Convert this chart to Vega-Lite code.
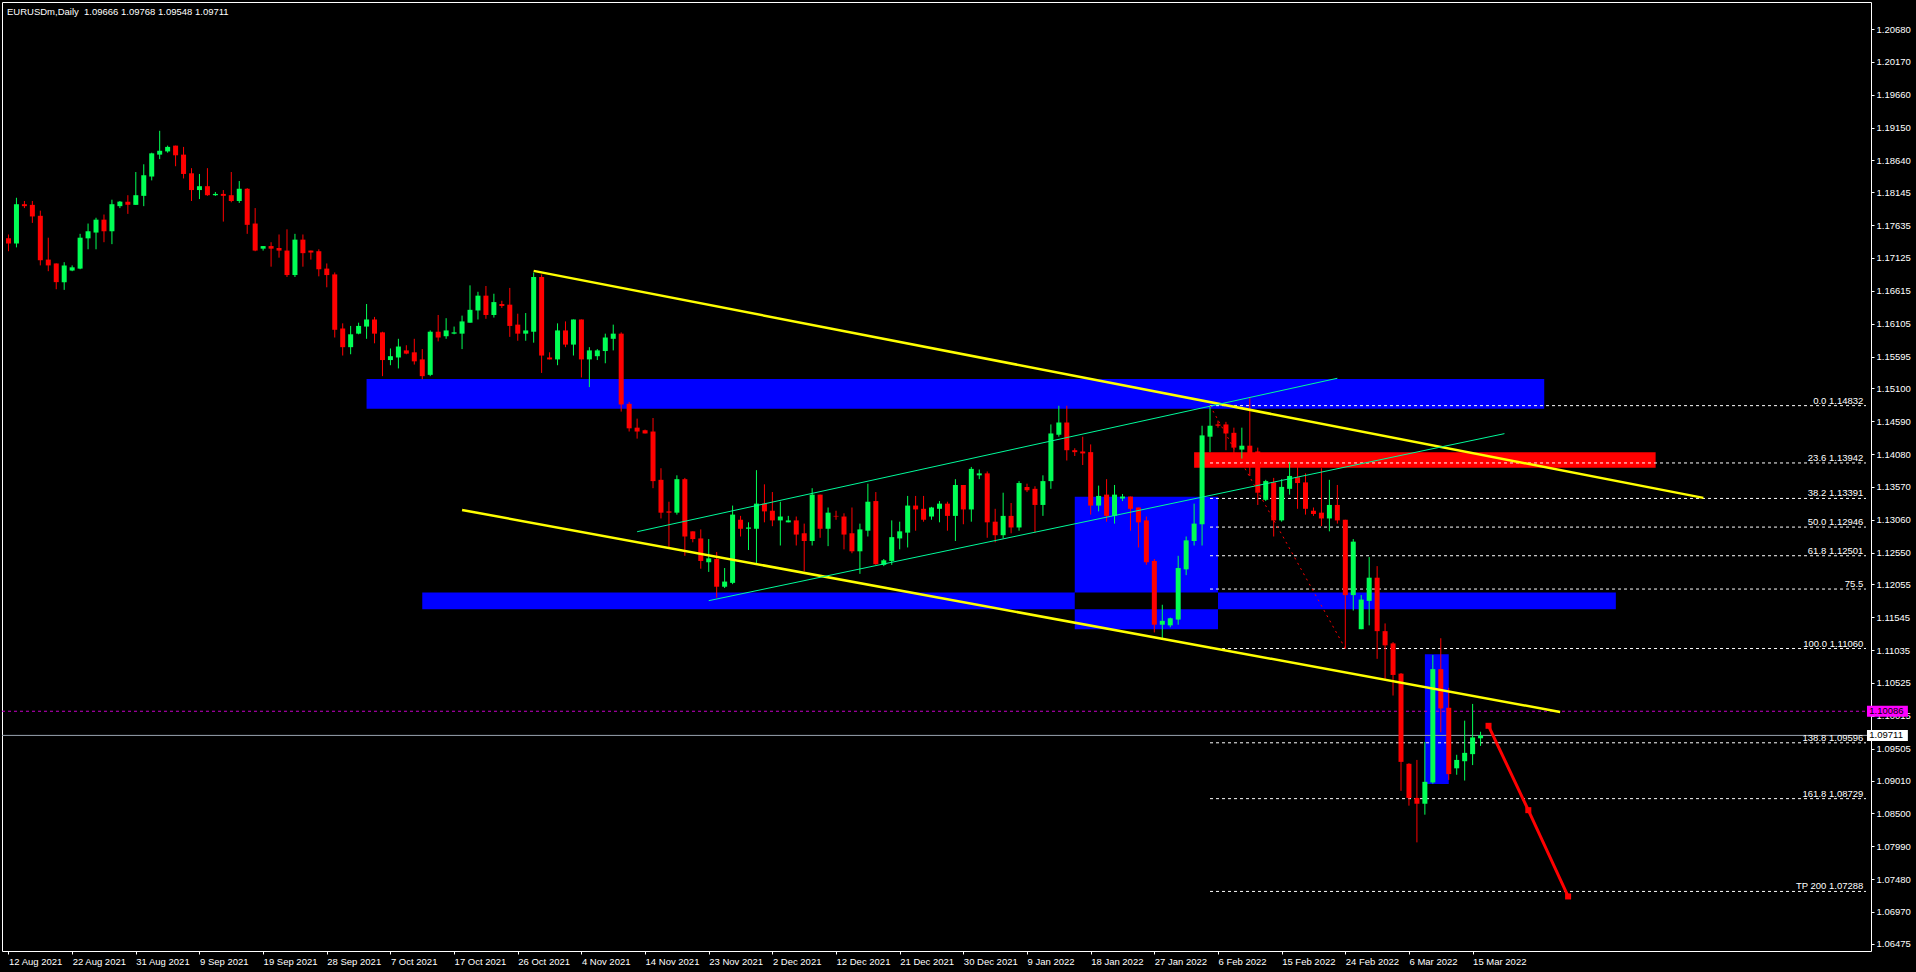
{
  "$schema": "https://vega.github.io/schema/vega-lite/v6.json",
  "width": 1869,
  "height": 949,
  "autosize": {"type": "none"},
  "padding": {"left": 2, "top": 2, "right": 45, "bottom": 21},
  "background": "#000000",
  "title": {"text": "EURUSDm,Daily\u00a0 1.09666 1.09768 1.09548 1.09711", "anchor": "start", "frame": "group", "orient": "top", "offset": -14, "dx": 5, "color": "#FFFFFF", "font": "Liberation Sans", "fontSize": 9.5, "fontWeight": "normal"},
  "config": {
    "view": {"stroke": "#FFFFFF", "strokeWidth": 1, "fill": "#000000"},
    "axis": {"grid": false, "domain": false, "tickColor": "#FFFFFF", "tickSize": 3, "labelColor": "#FFFFFF", "labelFont": "Liberation Sans", "labelFontSize": 9.5, "labelOverlap": false, "labelFlush": false, "labelBound": false}
  },
  "datasets": {
    "candles": [
      {"i":0,"o":1.1743,"h":1.1749,"l":1.1723,"c":1.1735},
      {"i":1,"o":1.1735,"h":1.1806,"l":1.1729,"c":1.1796},
      {"i":2,"o":1.1796,"h":1.1801,"l":1.1790,"c":1.1793},
      {"i":3,"o":1.1795,"h":1.1801,"l":1.1767,"c":1.1777},
      {"i":4,"o":1.1778,"h":1.1786,"l":1.1701,"c":1.1709},
      {"i":5,"o":1.1710,"h":1.1744,"l":1.1692,"c":1.1701},
      {"i":6,"o":1.1704,"h":1.1704,"l":1.1664,"c":1.1675},
      {"i":7,"o":1.1675,"h":1.1706,"l":1.1663,"c":1.1701},
      {"i":8,"o":1.1693,"h":1.1701,"l":1.1692,"c":1.1698},
      {"i":9,"o":1.1696,"h":1.1750,"l":1.1695,"c":1.1744},
      {"i":10,"o":1.1743,"h":1.1766,"l":1.1726,"c":1.1754},
      {"i":11,"o":1.1752,"h":1.1775,"l":1.1726,"c":1.1772},
      {"i":12,"o":1.1772,"h":1.1780,"l":1.1737,"c":1.1754},
      {"i":13,"o":1.1754,"h":1.1803,"l":1.1734,"c":1.1796},
      {"i":14,"o":1.1793,"h":1.1801,"l":1.1790,"c":1.1800},
      {"i":15,"o":1.1800,"h":1.1810,"l":1.1781,"c":1.1795},
      {"i":16,"o":1.1795,"h":1.1846,"l":1.1795,"c":1.1810},
      {"i":17,"o":1.1809,"h":1.1858,"l":1.1793,"c":1.1841},
      {"i":18,"o":1.1839,"h":1.1876,"l":1.1833,"c":1.1875},
      {"i":19,"o":1.1873,"h":1.1910,"l":1.1866,"c":1.1879},
      {"i":20,"o":1.1878,"h":1.1887,"l":1.1876,"c":1.1885},
      {"i":21,"o":1.1887,"h":1.1887,"l":1.1855,"c":1.1872},
      {"i":22,"o":1.1873,"h":1.1885,"l":1.1836,"c":1.1843},
      {"i":23,"o":1.1844,"h":1.1852,"l":1.1801,"c":1.1818},
      {"i":24,"o":1.1818,"h":1.1843,"l":1.1804,"c":1.1824},
      {"i":25,"o":1.1824,"h":1.1852,"l":1.1809,"c":1.1810},
      {"i":26,"o":1.1810,"h":1.1815,"l":1.1809,"c":1.1812},
      {"i":27,"o":1.1812,"h":1.1818,"l":1.1769,"c":1.1809},
      {"i":28,"o":1.1810,"h":1.1846,"l":1.1799,"c":1.1801},
      {"i":29,"o":1.1801,"h":1.1832,"l":1.1798,"c":1.1820},
      {"i":30,"o":1.1820,"h":1.1821,"l":1.1750,"c":1.1764},
      {"i":31,"o":1.1766,"h":1.1790,"l":1.1723,"c":1.1724},
      {"i":32,"o":1.1727,"h":1.1731,"l":1.1724,"c":1.1731},
      {"i":33,"o":1.1731,"h":1.1737,"l":1.1699,"c":1.1727},
      {"i":34,"o":1.1728,"h":1.1749,"l":1.1713,"c":1.1724},
      {"i":35,"o":1.1724,"h":1.1757,"l":1.1683,"c":1.1686},
      {"i":36,"o":1.1686,"h":1.1750,"l":1.1683,"c":1.1741},
      {"i":37,"o":1.1741,"h":1.1749,"l":1.1699,"c":1.1720},
      {"i":38,"o":1.1724,"h":1.1724,"l":1.1710,"c":1.1721},
      {"i":39,"o":1.1723,"h":1.1726,"l":1.1684,"c":1.1695},
      {"i":40,"o":1.1696,"h":1.1704,"l":1.1667,"c":1.1686},
      {"i":41,"o":1.1687,"h":1.1690,"l":1.1589,"c":1.1601},
      {"i":42,"o":1.1603,"h":1.1611,"l":1.1561,"c":1.1574},
      {"i":43,"o":1.1574,"h":1.1607,"l":1.1563,"c":1.1594},
      {"i":44,"o":1.1595,"h":1.1612,"l":1.1594,"c":1.1607},
      {"i":45,"o":1.1606,"h":1.1641,"l":1.1587,"c":1.1617},
      {"i":46,"o":1.1617,"h":1.1621,"l":1.1580,"c":1.1595},
      {"i":47,"o":1.1597,"h":1.1598,"l":1.1529,"c":1.1554},
      {"i":48,"o":1.1554,"h":1.1572,"l":1.1546,"c":1.1560},
      {"i":49,"o":1.1558,"h":1.1587,"l":1.1541,"c":1.1575},
      {"i":50,"o":1.1569,"h":1.1577,"l":1.1563,"c":1.1564},
      {"i":51,"o":1.1566,"h":1.1587,"l":1.1547,"c":1.1552},
      {"i":52,"o":1.1555,"h":1.1571,"l":1.1524,"c":1.1529},
      {"i":53,"o":1.1531,"h":1.1600,"l":1.1529,"c":1.1598},
      {"i":54,"o":1.1598,"h":1.1624,"l":1.1583,"c":1.1589},
      {"i":55,"o":1.1591,"h":1.1619,"l":1.1587,"c":1.1600},
      {"i":56,"o":1.1595,"h":1.1606,"l":1.1594,"c":1.1597},
      {"i":57,"o":1.1595,"h":1.1623,"l":1.1571,"c":1.1614},
      {"i":58,"o":1.1612,"h":1.1670,"l":1.1612,"c":1.1632},
      {"i":59,"o":1.1631,"h":1.1660,"l":1.1617,"c":1.1654},
      {"i":60,"o":1.1654,"h":1.1669,"l":1.1618,"c":1.1624},
      {"i":61,"o":1.1624,"h":1.1657,"l":1.1620,"c":1.1644},
      {"i":62,"o":1.1641,"h":1.1646,"l":1.1635,"c":1.1638},
      {"i":63,"o":1.1640,"h":1.1666,"l":1.1590,"c":1.1607},
      {"i":64,"o":1.1609,"h":1.1626,"l":1.1584,"c":1.1595},
      {"i":65,"o":1.1595,"h":1.1627,"l":1.1584,"c":1.1600},
      {"i":66,"o":1.1598,"h":1.1690,"l":1.1581,"c":1.1683},
      {"i":67,"o":1.1683,"h":1.1687,"l":1.1534,"c":1.1561},
      {"i":68,"o":1.1558,"h":1.1566,"l":1.1555,"c":1.1555},
      {"i":69,"o":1.1555,"h":1.1611,"l":1.1546,"c":1.1600},
      {"i":70,"o":1.1600,"h":1.1614,"l":1.1574,"c":1.1578},
      {"i":71,"o":1.1578,"h":1.1617,"l":1.1561,"c":1.1617},
      {"i":72,"o":1.1617,"h":1.1617,"l":1.1527,"c":1.1555},
      {"i":73,"o":1.1555,"h":1.1574,"l":1.1512,"c":1.1569},
      {"i":74,"o":1.1560,"h":1.1571,"l":1.1554,"c":1.1569},
      {"i":75,"o":1.1568,"h":1.1595,"l":1.1549,"c":1.1589},
      {"i":76,"o":1.1587,"h":1.1609,"l":1.1569,"c":1.1595},
      {"i":77,"o":1.1595,"h":1.1597,"l":1.1474,"c":1.1485},
      {"i":78,"o":1.1486,"h":1.1489,"l":1.1443,"c":1.1448},
      {"i":79,"o":1.1449,"h":1.1463,"l":1.1432,"c":1.1443},
      {"i":80,"o":1.1445,"h":1.1446,"l":1.1440,"c":1.1440},
      {"i":81,"o":1.1443,"h":1.1464,"l":1.1355,"c":1.1366},
      {"i":82,"o":1.1368,"h":1.1386,"l":1.1308,"c":1.1317},
      {"i":83,"o":1.1319,"h":1.1334,"l":1.1263,"c":1.1317},
      {"i":84,"o":1.1317,"h":1.1375,"l":1.1314,"c":1.1369},
      {"i":85,"o":1.1369,"h":1.1371,"l":1.1250,"c":1.1280},
      {"i":86,"o":1.1288,"h":1.1288,"l":1.1271,"c":1.1276},
      {"i":87,"o":1.1277,"h":1.1291,"l":1.1230,"c":1.1242},
      {"i":88,"o":1.1240,"h":1.1276,"l":1.1225,"c":1.1246},
      {"i":89,"o":1.1245,"h":1.1256,"l":1.1185,"c":1.1202},
      {"i":90,"o":1.1202,"h":1.1231,"l":1.1200,"c":1.1210},
      {"i":91,"o":1.1208,"h":1.1328,"l":1.1206,"c":1.1314},
      {"i":92,"o":1.1306,"h":1.1312,"l":1.1280,"c":1.1292},
      {"i":93,"o":1.1292,"h":1.1302,"l":1.1259,"c":1.1294},
      {"i":94,"o":1.1292,"h":1.1383,"l":1.1237,"c":1.1331},
      {"i":95,"o":1.1331,"h":1.1361,"l":1.1302,"c":1.1319},
      {"i":96,"o":1.1320,"h":1.1349,"l":1.1296,"c":1.1305},
      {"i":97,"o":1.1305,"h":1.1334,"l":1.1266,"c":1.1311},
      {"i":98,"o":1.1302,"h":1.1312,"l":1.1302,"c":1.1305},
      {"i":99,"o":1.1305,"h":1.1311,"l":1.1266,"c":1.1283},
      {"i":100,"o":1.1285,"h":1.1300,"l":1.1226,"c":1.1273},
      {"i":101,"o":1.1273,"h":1.1355,"l":1.1266,"c":1.1345},
      {"i":102,"o":1.1345,"h":1.1345,"l":1.1278,"c":1.1292},
      {"i":103,"o":1.1292,"h":1.1325,"l":1.1265,"c":1.1317},
      {"i":104,"o":1.1312,"h":1.1320,"l":1.1306,"c":1.1311},
      {"i":105,"o":1.1311,"h":1.1316,"l":1.1260,"c":1.1283},
      {"i":106,"o":1.1285,"h":1.1325,"l":1.1254,"c":1.1257},
      {"i":107,"o":1.1257,"h":1.1300,"l":1.1222,"c":1.1291},
      {"i":108,"o":1.1289,"h":1.1362,"l":1.1280,"c":1.1334},
      {"i":109,"o":1.1335,"h":1.1349,"l":1.1236,"c":1.1237},
      {"i":110,"o":1.1236,"h":1.1245,"l":1.1234,"c":1.1243},
      {"i":111,"o":1.1242,"h":1.1305,"l":1.1236,"c":1.1279},
      {"i":112,"o":1.1277,"h":1.1303,"l":1.1260,"c":1.1288},
      {"i":113,"o":1.1286,"h":1.1343,"l":1.1263,"c":1.1328},
      {"i":114,"o":1.1328,"h":1.1343,"l":1.1289,"c":1.1322},
      {"i":115,"o":1.1323,"h":1.1343,"l":1.1303,"c":1.1306},
      {"i":116,"o":1.1311,"h":1.1326,"l":1.1306,"c":1.1325},
      {"i":117,"o":1.1323,"h":1.1335,"l":1.1302,"c":1.1331},
      {"i":118,"o":1.1331,"h":1.1334,"l":1.1289,"c":1.1312},
      {"i":119,"o":1.1312,"h":1.1369,"l":1.1273,"c":1.1360},
      {"i":120,"o":1.1360,"h":1.1360,"l":1.1299,"c":1.1322},
      {"i":121,"o":1.1322,"h":1.1388,"l":1.1303,"c":1.1385},
      {"i":122,"o":1.1375,"h":1.1384,"l":1.1369,"c":1.1378},
      {"i":123,"o":1.1378,"h":1.1381,"l":1.1278,"c":1.1302},
      {"i":124,"o":1.1303,"h":1.1323,"l":1.1271,"c":1.1282},
      {"i":125,"o":1.1282,"h":1.1348,"l":1.1277,"c":1.1312},
      {"i":126,"o":1.1312,"h":1.1332,"l":1.1285,"c":1.1294},
      {"i":127,"o":1.1294,"h":1.1366,"l":1.1289,"c":1.1363},
      {"i":128,"o":1.1357,"h":1.1362,"l":1.1349,"c":1.1352},
      {"i":129,"o":1.1354,"h":1.1358,"l":1.1286,"c":1.1329},
      {"i":130,"o":1.1329,"h":1.1375,"l":1.1312,"c":1.1366},
      {"i":131,"o":1.1366,"h":1.1454,"l":1.1354,"c":1.1440},
      {"i":132,"o":1.1438,"h":1.1483,"l":1.1435,"c":1.1457},
      {"i":133,"o":1.1457,"h":1.1483,"l":1.1398,"c":1.1414},
      {"i":134,"o":1.1414,"h":1.1417,"l":1.1405,"c":1.1411},
      {"i":135,"o":1.1412,"h":1.1435,"l":1.1391,"c":1.1409},
      {"i":136,"o":1.1411,"h":1.1423,"l":1.1314,"c":1.1328},
      {"i":137,"o":1.1328,"h":1.1359,"l":1.1319,"c":1.1343},
      {"i":138,"o":1.1345,"h":1.1369,"l":1.1303,"c":1.1312},
      {"i":139,"o":1.1312,"h":1.1360,"l":1.1300,"c":1.1345},
      {"i":140,"o":1.1339,"h":1.1346,"l":1.1335,"c":1.1342},
      {"i":141,"o":1.1342,"h":1.1342,"l":1.1289,"c":1.1323},
      {"i":142,"o":1.1325,"h":1.1325,"l":1.1263,"c":1.1302},
      {"i":143,"o":1.1305,"h":1.1311,"l":1.1236,"c":1.1240},
      {"i":144,"o":1.1242,"h":1.1245,"l":1.1131,"c":1.1143},
      {"i":145,"o":1.1143,"h":1.1174,"l":1.1122,"c":1.1149},
      {"i":146,"o":1.1142,"h":1.1154,"l":1.1139,"c":1.1153},
      {"i":147,"o":1.1151,"h":1.1250,"l":1.1143,"c":1.1231},
      {"i":148,"o":1.1229,"h":1.1280,"l":1.1220,"c":1.1274},
      {"i":149,"o":1.1273,"h":1.1331,"l":1.1266,"c":1.1300},
      {"i":150,"o":1.1299,"h":1.1452,"l":1.1266,"c":1.1437},
      {"i":151,"o":1.1435,"h":1.1483,"l":1.1411,"c":1.1452},
      {"i":152,"o":1.1454,"h":1.1460,"l":1.1449,"c":1.1452},
      {"i":153,"o":1.1454,"h":1.1458,"l":1.1414,"c":1.1440},
      {"i":154,"o":1.1441,"h":1.1449,"l":1.1401,"c":1.1418},
      {"i":155,"o":1.1415,"h":1.1449,"l":1.1401,"c":1.1421},
      {"i":156,"o":1.1421,"h":1.1495,"l":1.1374,"c":1.1404},
      {"i":157,"o":1.1412,"h":1.1418,"l":1.1329,"c":1.1348},
      {"i":158,"o":1.1337,"h":1.1368,"l":1.1335,"c":1.1366},
      {"i":159,"o":1.1364,"h":1.1371,"l":1.1280,"c":1.1305},
      {"i":160,"o":1.1305,"h":1.1369,"l":1.1303,"c":1.1357},
      {"i":161,"o":1.1354,"h":1.1395,"l":1.1345,"c":1.1374},
      {"i":162,"o":1.1372,"h":1.1388,"l":1.1323,"c":1.1363},
      {"i":163,"o":1.1364,"h":1.1378,"l":1.1314,"c":1.1323},
      {"i":164,"o":1.1320,"h":1.1325,"l":1.1312,"c":1.1315},
      {"i":165,"o":1.1317,"h":1.1386,"l":1.1296,"c":1.1308},
      {"i":166,"o":1.1308,"h":1.1368,"l":1.1288,"c":1.1329},
      {"i":167,"o":1.1329,"h":1.1360,"l":1.1300,"c":1.1305},
      {"i":168,"o":1.1306,"h":1.1306,"l":1.1106,"c":1.1189},
      {"i":169,"o":1.1189,"h":1.1276,"l":1.1165,"c":1.1272},
      {"i":170,"o":1.1136,"h":1.1189,"l":1.1136,"c":1.1182},
      {"i":171,"o":1.1180,"h":1.1248,"l":1.1142,"c":1.1216},
      {"i":172,"o":1.1216,"h":1.1234,"l":1.1090,"c":1.1133},
      {"i":173,"o":1.1133,"h":1.1145,"l":1.1057,"c":1.1111},
      {"i":174,"o":1.1114,"h":1.1116,"l":1.1033,"c":1.1065},
      {"i":175,"o":1.1067,"h":1.1068,"l":1.0885,"c":1.0930},
      {"i":176,"o":1.0927,"h":1.0928,"l":1.0862,"c":1.0874},
      {"i":177,"o":1.0874,"h":1.0933,"l":1.0805,"c":1.0865},
      {"i":178,"o":1.0865,"h":1.0961,"l":1.0848,"c":1.0899},
      {"i":179,"o":1.0898,"h":1.1096,"l":1.0896,"c":1.1074},
      {"i":180,"o":1.1074,"h":1.1122,"l":1.0976,"c":1.1013},
      {"i":181,"o":1.1014,"h":1.1045,"l":1.0902,"c":1.0911},
      {"i":182,"o":1.0920,"h":1.0941,"l":1.0910,"c":1.0933},
      {"i":183,"o":1.0931,"h":1.0994,"l":1.0901,"c":1.0944},
      {"i":184,"o":1.0942,"h":1.1020,"l":1.0925,"c":1.0968},
      {"i":185,"o":1.09666,"h":1.09768,"l":1.09548,"c":1.09711}
    ],
    "zones": [
      {"k":"blue","i1":45,"i2":193,"p1":1.14784,"p2":1.15245},
      {"k":"blue","i1":52,"i2":202,"p1":1.11670,"p2":1.11931},
      {"k":"blue","i1":134,"i2":152,"p1":1.11358,"p2":1.13417},
      {"k":"blue","i1":178,"i2":181,"p1":1.08956,"p2":1.10973},
      {"k":"red","i1":149,"i2":207,"p1":1.13867,"p2":1.14108},
      {"k":"gap","i1":134,"i2":152,"p1":1.11670,"p2":1.11931}
    ],
    "trend": [
      {"id":"upper","i":66,"p":1.16925},{"id":"upper","i":213,"p":1.1340},
      {"id":"lower","i":57,"p":1.13212},{"id":"lower","i":195,"p":1.10075}
    ],
    "channel": [
      {"id":"top","i":79,"p":1.12874},{"id":"top","i":167,"p":1.15257},
      {"id":"bottom","i":88,"p":1.11803},{"id":"bottom","i":188,"p":1.14397}
    ],
    "fibswing": [{"i":151,"p":1.14832},{"i":168,"p":1.11060}],
    "projection": [{"i":186,"p":1.0986},{"i":191,"p":1.0855},{"i":196,"p":1.0721}],
    "fib": [
      {"from":151,"p":1.14832,"label":"0.0 1.14832"},
      {"from":151,"p":1.13942,"label":"23.6 1.13942"},
      {"from":151,"p":1.13391,"label":"38.2 1.13391"},
      {"from":151,"p":1.12946,"label":"50.0 1.12946"},
      {"from":151,"p":1.12501,"label":"61.8 1.12501"},
      {"from":151,"p":1.11984,"label":"75.5"},
      {"from":151,"p":1.11060,"label":"100.0 1.11060"},
      {"from":151,"p":1.09596,"label":"138.8 1.09596"},
      {"from":151,"p":1.08729,"label":"161.8 1.08729"},
      {"from":151,"p":1.07288,"label":"TP 200 1.07288"}
    ],
    "tags": [
      {"k":"alert","p":1.10086,"t":"1.10086"},
      {"k":"bid","p":1.09711,"t":"1.09711"}
    ]
  },
  "layer": [
    {
      "data": {"name": "zones"},
      "mark": {"type": "rect"},
      "encoding": {
        "x": {"field": "i1", "type": "quantitative", "title": null,
              "scale": {"domain": [-0.1875, 233.4375], "nice": false, "zero": false},
              "axis": {"orient": "bottom", "tickCount": 60, "values": [0,8,16,24,32,40,48,56,64,72,80,88,96,104,112,120,128,136,144,152,160,168,176,184],
                       "labelExpr": "['12 Aug 2021','22 Aug 2021','31 Aug 2021','9 Sep 2021','19 Sep 2021','28 Sep 2021','7 Oct 2021','17 Oct 2021','26 Oct 2021','4 Nov 2021','14 Nov 2021','23 Nov 2021','2 Dec 2021','12 Dec 2021','21 Dec 2021','30 Dec 2021','9 Jan 2022','18 Jan 2022','27 Jan 2022','6 Feb 2022','15 Feb 2022','24 Feb 2022','6 Mar 2022','15 Mar 2022'][round(datum.value/8)]",
                       "labelAlign": "left", "labelBaseline": "top", "labelPadding": 2, "labelOverlap": false, "title": null}},
        "x2": {"field": "i2"},
        "y": {"field": "p1", "type": "quantitative", "title": null,
              "scale": {"domain": [1.064406, 1.210227], "nice": false, "zero": false},
              "axis": {"orient": "right", "tickCount": 60, "values": [1.06475,1.0697,1.0748,1.0799,1.085,1.0901,1.09505,1.10015,1.10525,1.11035,1.11545,1.12055,1.1255,1.1306,1.1357,1.1408,1.1459,1.151,1.15595,1.16105,1.16615,1.17125,1.17635,1.18145,1.1864,1.1915,1.1966,1.2017,1.2068],
                       "format": ".5f", "labelAlign": "left", "labelBaseline": "middle", "labelPadding": 2, "labelOverlap": false, "labelSeparation": 0, "title": null}},
        "y2": {"field": "p2"},
        "color": {"field": "k", "type": "nominal", "legend": null,
                  "scale": {"domain": ["blue", "red", "gap"], "range": ["#0000FF", "#FF0000", "#000000"]}}
      }
    },
    {
      "data": {"values": [{"p": 1.10086}]},
      "mark": {"type": "rule", "color": "#C800C8", "strokeWidth": 1, "strokeDash": [3, 3]},
      "encoding": {"y": {"field": "p", "type": "quantitative", "title": null, "scale": {"domain": [1.064406, 1.210227], "nice": false, "zero": false}}}
    },
    {
      "data": {"values": [{"p": 1.09711}]},
      "mark": {"type": "rule", "color": "#9AA4B0", "strokeWidth": 1},
      "encoding": {"y": {"field": "p", "type": "quantitative", "title": null, "scale": {"domain": [1.064406, 1.210227], "nice": false, "zero": false}}}
    },
    {
      "data": {"name": "fib"},
      "mark": {"type": "rule", "color": "#FFFFFF", "strokeWidth": 1, "strokeDash": [3, 3]},
      "encoding": {
        "x": {"field": "from", "type": "quantitative", "title": null, "scale": {"domain": [-0.1875, 233.4375], "nice": false, "zero": false}},
        "x2": {"datum": 233.4375},
        "y": {"field": "p", "type": "quantitative", "title": null, "scale": {"domain": [1.064406, 1.210227], "nice": false, "zero": false}}
      }
    },
    {
      "data": {"name": "fib"},
      "mark": {"type": "text", "align": "right", "baseline": "alphabetic", "dy": -2, "color": "#FFFFFF", "font": "Liberation Sans", "fontSize": 9.5},
      "encoding": {
        "x": {"datum": 233.1, "type": "quantitative", "scale": {"domain": [-0.1875, 233.4375], "nice": false, "zero": false}},
        "y": {"field": "p", "type": "quantitative", "title": null, "scale": {"domain": [1.064406, 1.210227], "nice": false, "zero": false}},
        "text": {"field": "label"}
      }
    },
    {
      "data": {"name": "candles"},
      "mark": {"type": "rule", "strokeWidth": 1},
      "encoding": {
        "x": {"field": "i", "type": "quantitative", "title": null, "scale": {"domain": [-0.1875, 233.4375], "nice": false, "zero": false}},
        "y": {"field": "l", "type": "quantitative", "title": null, "scale": {"domain": [1.064406, 1.210227], "nice": false, "zero": false}},
        "y2": {"field": "h"},
        "color": {"condition": {"test": "datum.c >= datum.o", "value": "#00FF55"}, "value": "#FF0000"}
      }
    },
    {
      "data": {"name": "candles"},
      "mark": {"type": "bar", "orient": "vertical", "size": 5},
      "encoding": {
        "x": {"field": "i", "type": "quantitative", "title": null, "scale": {"domain": [-0.1875, 233.4375], "nice": false, "zero": false}},
        "y": {"field": "o", "type": "quantitative", "title": null, "scale": {"domain": [1.064406, 1.210227], "nice": false, "zero": false}},
        "y2": {"field": "c"},
        "color": {"condition": {"test": "datum.c >= datum.o", "value": "#00FF55"}, "value": "#FF0000"}
      }
    },
    {
      "data": {"name": "trend"},
      "mark": {"type": "line", "color": "#FFFF00", "strokeWidth": 2.5},
      "encoding": {
        "x": {"field": "i", "type": "quantitative", "title": null, "scale": {"domain": [-0.1875, 233.4375], "nice": false, "zero": false}},
        "y": {"field": "p", "type": "quantitative", "title": null, "scale": {"domain": [1.064406, 1.210227], "nice": false, "zero": false}},
        "detail": {"field": "id"}
      }
    },
    {
      "data": {"name": "channel"},
      "mark": {"type": "line", "color": "#00FA9A", "strokeWidth": 1},
      "encoding": {
        "x": {"field": "i", "type": "quantitative", "title": null, "scale": {"domain": [-0.1875, 233.4375], "nice": false, "zero": false}},
        "y": {"field": "p", "type": "quantitative", "title": null, "scale": {"domain": [1.064406, 1.210227], "nice": false, "zero": false}},
        "detail": {"field": "id"}
      }
    },
    {
      "data": {"name": "fibswing"},
      "mark": {"type": "line", "color": "#FF0000", "strokeWidth": 1, "strokeDash": [2, 4]},
      "encoding": {
        "x": {"field": "i", "type": "quantitative", "title": null, "scale": {"domain": [-0.1875, 233.4375], "nice": false, "zero": false}},
        "y": {"field": "p", "type": "quantitative", "title": null, "scale": {"domain": [1.064406, 1.210227], "nice": false, "zero": false}}
      }
    },
    {
      "data": {"name": "projection"},
      "mark": {"type": "line", "color": "#FF0000", "strokeWidth": 3, "point": {"shape": "square", "size": 36, "filled": true, "color": "#FF0000"}},
      "encoding": {
        "x": {"field": "i", "type": "quantitative", "title": null, "scale": {"domain": [-0.1875, 233.4375], "nice": false, "zero": false}},
        "y": {"field": "p", "type": "quantitative", "title": null, "scale": {"domain": [1.064406, 1.210227], "nice": false, "zero": false}}
      }
    },
    {
      "data": {"name": "tags"},
      "mark": {"type": "bar", "orient": "horizontal", "size": 11},
      "encoding": {
        "x": {"datum": 233.56, "type": "quantitative", "scale": {"domain": [-0.1875, 233.4375], "nice": false, "zero": false}},
        "x2": {"datum": 238.7},
        "y": {"field": "p", "type": "quantitative", "title": null, "scale": {"domain": [1.064406, 1.210227], "nice": false, "zero": false}},
        "color": {"field": "k", "type": "nominal", "legend": null, "scale": {"domain": ["alert", "bid"], "range": ["#FF00FF", "#FFFFFF"]}}
      }
    },
    {
      "data": {"name": "tags"},
      "mark": {"type": "text", "align": "left", "baseline": "middle", "color": "#000000", "font": "Liberation Sans", "fontSize": 9.5},
      "encoding": {
        "x": {"datum": 233.85, "type": "quantitative", "scale": {"domain": [-0.1875, 233.4375], "nice": false, "zero": false}},
        "y": {"field": "p", "type": "quantitative", "title": null, "scale": {"domain": [1.064406, 1.210227], "nice": false, "zero": false}},
        "text": {"field": "t"}
      }
    }
  ],
  "resolve": {"scale": {"color": "independent"}}
}
